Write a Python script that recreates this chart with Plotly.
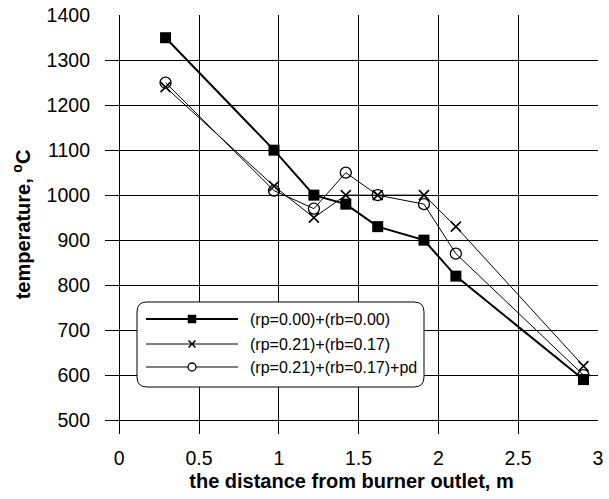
import plotly.graph_objects as go

# ---- data ----
distance = [0.29, 0.97, 1.22, 1.42, 1.62, 1.91, 2.11, 2.91]
temp_base = [1350, 1100, 1000, 980, 930, 900, 820, 590]
temp_rp021 = [1240, 1020, 950, 1000, 1000, 1000, 930, 620]
temp_rp021_pd = [1250, 1010, 970, 1050, 1000, 980, 870, 600]
series_names = ["(rp=0.00)+(rb=0.00)", "(rp=0.21)+(rb=0.17)", "(rp=0.21)+(rb=0.17)+pd"]
x_ticks = [0, 0.5, 1, 1.5, 2, 2.5, 3]
x_ticklabels = ["0", "0.5", "1", "1.5", "2", "2.5", "3"]
y_ticks = [500, 600, 700, 800, 900, 1000, 1100, 1200, 1300, 1400]

FONT = "Liberation Sans, Arial, sans-serif"
W, H = 609, 499
ML, MR, MT, MB = 105, 11, 15, 65
PW, PH = W - ML - MR, H - MT - MB


def px(x):
    return (x - ML) / PW


def py(y):
    return (H - MB - y) / PH


styles = [
    dict(line=dict(color="black", width=2), marker=dict(symbol="square", size=11, color="black")),
    dict(line=dict(color="black", width=1), marker=dict(symbol="x-thin-open", size=10, color="black",
                                                         line=dict(color="black", width=1.6))),
    dict(line=dict(color="black", width=1), marker=dict(symbol="circle-open", size=11, color="black",
                                                         line=dict(color="black", width=1.3))),
]

fig = go.Figure()
for name, ys, st in zip(series_names, [temp_base, temp_rp021, temp_rp021_pd], styles):
    fig.add_trace(go.Scatter(x=distance, y=ys, mode="lines+markers", name=name,
                             line=st["line"], marker=st["marker"], showlegend=False,
                             cliponaxis=False))

# ---- custom legend (rounded box), layout positions in paper coordinates ----
lx0, lx1, ly0, ly1, r = 137, 424, 302, 387, 10
pts = lambda x, y: f"{px(x):.5f},{py(y):.5f}"
path = (f"M {pts(lx0+r, ly0)} L {pts(lx1-r, ly0)} Q {pts(lx1, ly0)} {pts(lx1, ly0+r)} "
        f"L {pts(lx1, ly1-r)} Q {pts(lx1, ly1)} {pts(lx1-r, ly1)} L {pts(lx0+r, ly1)} "
        f"Q {pts(lx0, ly1)} {pts(lx0, ly1-r)} L {pts(lx0, ly0+r)} Q {pts(lx0, ly0)} {pts(lx0+r, ly0)} Z")
shapes = [dict(type="path", path=path, xref="paper", yref="paper", fillcolor="white",
               line=dict(color="black", width=1), layer="above")]
rows = [319, 344, 367]
mx = 192
annotations = []
for i, (name, st) in enumerate(zip(series_names, styles)):
    yy = rows[i]
    shapes.append(dict(type="line", x0=px(146), x1=px(238), y0=py(yy), y1=py(yy),
                       xref="paper", yref="paper",
                       line=dict(color="black", width=st["line"]["width"]), layer="above"))
    common = dict(xref="paper", yref="paper", xsizemode="pixel", ysizemode="pixel",
                  xanchor=px(mx), yanchor=py(yy), layer="above")
    if i == 0:
        shapes.append(dict(type="rect", x0=-4, x1=4, y0=-4, y1=4, fillcolor="black",
                           line=dict(color="black", width=0.5), **common))
    elif i == 1:
        shapes.append(dict(type="line", x0=-3.5, x1=3.5, y0=-3.5, y1=3.5,
                           line=dict(color="black", width=1.6), **common))
        shapes.append(dict(type="line", x0=-3.5, x1=3.5, y0=3.5, y1=-3.5,
                           line=dict(color="black", width=1.6), **common))
    else:
        shapes.append(dict(type="circle", x0=-4, x1=4, y0=-4, y1=4, fillcolor="white",
                           line=dict(color="black", width=1.3), **common))
    annotations.append(dict(x=px(248), y=py(yy), xref="paper", yref="paper", text=name,
                            showarrow=False, xanchor="left", yanchor="middle",
                            font=dict(family=FONT, size=16, color="black")))

fig.update_layout(
    width=W, height=H,
    margin=dict(l=ML, r=MR, t=MT, b=MB, autoexpand=False),
    paper_bgcolor="white", plot_bgcolor="white",
    font=dict(family=FONT, size=19.5, color="black"),
    showlegend=False,
    xaxis=dict(range=[-0.0896, 3.001], tickvals=x_ticks, ticktext=x_ticklabels,
               showgrid=True, gridcolor="black", gridwidth=1, zeroline=False,
               showline=False, ticks="", tickfont=dict(size=19.5), ticklabelstandoff=10,
               automargin=False,
               title=dict(text="<b>the distance from burner outlet, m</b>",
                          font=dict(size=20), standoff=6)),
    yaxis=dict(range=[469, 1400.5], tickvals=y_ticks,
               showgrid=True, gridcolor="black", gridwidth=1, zeroline=False,
               showline=False, ticks="", tickfont=dict(size=19.5), ticklabelstandoff=14,
               automargin=False,
               title=dict(text="<b>temperature, <sup>o</sup>C</b>", font=dict(size=20), standoff=10)),
    shapes=shapes,
    annotations=annotations,
)

fig.write_html("out.html")
